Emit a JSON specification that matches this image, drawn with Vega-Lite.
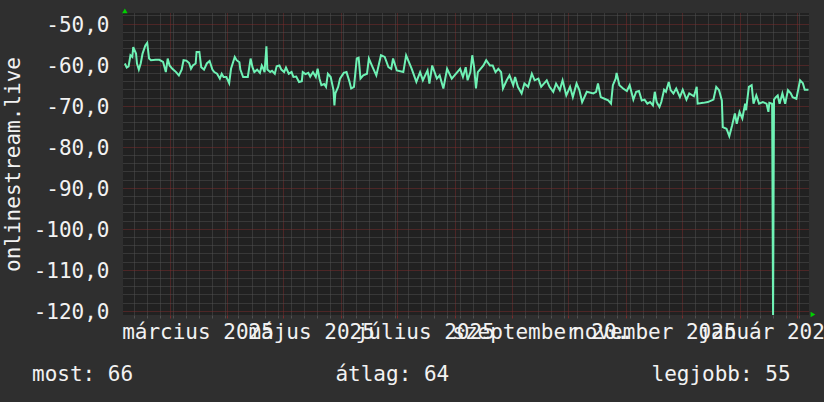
{
  "$schema": "https://vega.github.io/schema/vega-lite/v6.json",
  "width": 686,
  "height": 302,
  "autosize": {"type": "none"},
  "padding": {"left": 123, "top": 13, "right": 15, "bottom": 87},
  "background": "#2f2f2f",
  "config": {
    "view": {"fill": "#212121", "stroke": null},
    "font": "DejaVu Sans Mono",
    "axis": {
      "domain": false,
      "labelFont": "DejaVu Sans Mono",
      "labelFontSize": 21,
      "labelColor": "#f2f2f2",
      "titleFont": "DejaVu Sans Mono",
      "titleFontSize": 21,
      "titleFontWeight": "normal",
      "titleColor": "#f2f2f2"
    }
  },
  "title": {
    "text": "most: 66\u00a0\u00a0\u00a0\u00a0\u00a0\u00a0\u00a0\u00a0\u00a0\u00a0\u00a0\u00a0\u00a0\u00a0\u00a0\u00a0átlag: 64\u00a0\u00a0\u00a0\u00a0\u00a0\u00a0\u00a0\u00a0\u00a0\u00a0\u00a0\u00a0\u00a0\u00a0\u00a0\u00a0legjobb: 55",
    "orient": "bottom",
    "anchor": "start",
    "frame": "group",
    "dx": -91,
    "offset": 22,
    "font": "DejaVu Sans Mono",
    "fontSize": 21,
    "fontWeight": "normal",
    "color": "#f2f2f2"
  },
  "data": {"values": [
    {"t":"2025-02-05","v":-59.7},
    {"t":"2025-02-06","v":-60.7},
    {"t":"2025-02-07","v":-60.4},
    {"t":"2025-02-08","v":-57.7},
    {"t":"2025-02-09","v":-58.1},
    {"t":"2025-02-09T12:00Z","v":-55.7},
    {"t":"2025-02-11","v":-57.3},
    {"t":"2025-02-11T12:00Z","v":-59.7},
    {"t":"2025-02-12T12:00Z","v":-61.2},
    {"t":"2025-02-13T12:00Z","v":-59.7},
    {"t":"2025-02-14T12:00Z","v":-57.3},
    {"t":"2025-02-16","v":-55.3},
    {"t":"2025-02-17","v":-54.7},
    {"t":"2025-02-18","v":-58.5},
    {"t":"2025-02-19","v":-58.9},
    {"t":"2025-02-21T12:00Z","v":-58.8},
    {"t":"2025-02-23T12:00Z","v":-58.8},
    {"t":"2025-02-25T12:00Z","v":-59.3},
    {"t":"2025-02-27","v":-61.8},
    {"t":"2025-02-28","v":-58.5},
    {"t":"2025-03-01","v":-60.2},
    {"t":"2025-03-02T12:00Z","v":-61},
    {"t":"2025-03-04T12:00Z","v":-61.8},
    {"t":"2025-03-06","v":-62.6},
    {"t":"2025-03-07T12:00Z","v":-61.2},
    {"t":"2025-03-08T12:00Z","v":-58.9},
    {"t":"2025-03-10","v":-59},
    {"t":"2025-03-11T12:00Z","v":-59.6},
    {"t":"2025-03-12T12:00Z","v":-61},
    {"t":"2025-03-13T12:00Z","v":-60.2},
    {"t":"2025-03-15","v":-59.7},
    {"t":"2025-03-15T12:00Z","v":-56.9},
    {"t":"2025-03-17","v":-56.9},
    {"t":"2025-03-18","v":-60.6},
    {"t":"2025-03-19T12:00Z","v":-61.2},
    {"t":"2025-03-21","v":-59.7},
    {"t":"2025-03-22T12:00Z","v":-59.1},
    {"t":"2025-03-24","v":-61.2},
    {"t":"2025-03-25","v":-61.8},
    {"t":"2025-03-26T12:00Z","v":-62.2},
    {"t":"2025-03-28","v":-63.4},
    {"t":"2025-03-29","v":-62.2},
    {"t":"2025-03-30","v":-63},
    {"t":"2025-03-31T12:00Z","v":-63},
    {"t":"2025-04-02","v":-64.5},
    {"t":"2025-04-03","v":-61},
    {"t":"2025-04-05","v":-58.1},
    {"t":"2025-04-06","v":-58.9},
    {"t":"2025-04-07T12:00Z","v":-59.4},
    {"t":"2025-04-08","v":-61.2},
    {"t":"2025-04-09T12:00Z","v":-63},
    {"t":"2025-04-11","v":-63},
    {"t":"2025-04-12","v":-63},
    {"t":"2025-04-13T12:00Z","v":-58.5},
    {"t":"2025-04-14T12:00Z","v":-60.6},
    {"t":"2025-04-15T12:00Z","v":-61.8},
    {"t":"2025-04-17","v":-61.2},
    {"t":"2025-04-18T12:00Z","v":-62},
    {"t":"2025-04-19T12:00Z","v":-60.2},
    {"t":"2025-04-20","v":-60.6},
    {"t":"2025-04-21","v":-61.8},
    {"t":"2025-04-22","v":-55.5},
    {"t":"2025-04-22T12:00Z","v":-61.2},
    {"t":"2025-04-24","v":-61.8},
    {"t":"2025-04-25","v":-61.5},
    {"t":"2025-04-26T12:00Z","v":-62.2},
    {"t":"2025-04-27T12:00Z","v":-60.4},
    {"t":"2025-04-29","v":-60.2},
    {"t":"2025-04-30","v":-61.2},
    {"t":"2025-05-01T12:00Z","v":-61.8},
    {"t":"2025-05-02T12:00Z","v":-60.7},
    {"t":"2025-05-04","v":-62.2},
    {"t":"2025-05-05T12:00Z","v":-61.8},
    {"t":"2025-05-06T12:00Z","v":-63},
    {"t":"2025-05-08","v":-62.9},
    {"t":"2025-05-09T12:00Z","v":-64.2},
    {"t":"2025-05-11","v":-64},
    {"t":"2025-05-11T12:00Z","v":-61.8},
    {"t":"2025-05-13","v":-62.3},
    {"t":"2025-05-14T12:00Z","v":-62},
    {"t":"2025-05-15T12:00Z","v":-62.9},
    {"t":"2025-05-17","v":-61.8},
    {"t":"2025-05-18T12:00Z","v":-63},
    {"t":"2025-05-19T12:00Z","v":-61},
    {"t":"2025-05-20T12:00Z","v":-63.4},
    {"t":"2025-05-21T12:00Z","v":-65},
    {"t":"2025-05-23","v":-64.7},
    {"t":"2025-05-24","v":-65.4},
    {"t":"2025-05-25","v":-62.2},
    {"t":"2025-05-26T12:00Z","v":-63},
    {"t":"2025-05-28","v":-66.2},
    {"t":"2025-05-28T12:00Z","v":-69.9},
    {"t":"2025-05-29","v":-67},
    {"t":"2025-05-30T12:00Z","v":-65.4},
    {"t":"2025-05-31T12:00Z","v":-63.4},
    {"t":"2025-06-02T12:00Z","v":-62},
    {"t":"2025-06-04","v":-61.8},
    {"t":"2025-06-05T12:00Z","v":-64},
    {"t":"2025-06-06T12:00Z","v":-65.8},
    {"t":"2025-06-08","v":-65.4},
    {"t":"2025-06-09T12:00Z","v":-58.5},
    {"t":"2025-06-10T12:00Z","v":-58.3},
    {"t":"2025-06-11T12:00Z","v":-63.4},
    {"t":"2025-06-13","v":-62.6},
    {"t":"2025-06-15","v":-62.2},
    {"t":"2025-06-16","v":-58.5},
    {"t":"2025-06-18","v":-60.6},
    {"t":"2025-06-20","v":-62.6},
    {"t":"2025-06-22T12:00Z","v":-57.7},
    {"t":"2025-06-24T12:00Z","v":-58.1},
    {"t":"2025-06-26T12:00Z","v":-60.6},
    {"t":"2025-06-28","v":-61},
    {"t":"2025-06-29","v":-58.5},
    {"t":"2025-07-01","v":-61.4},
    {"t":"2025-07-04T12:00Z","v":-61.8},
    {"t":"2025-07-06","v":-57.7},
    {"t":"2025-07-09","v":-61},
    {"t":"2025-07-11T12:00Z","v":-64.2},
    {"t":"2025-07-13T12:00Z","v":-61.8},
    {"t":"2025-07-15","v":-63.8},
    {"t":"2025-07-17T12:00Z","v":-61.4},
    {"t":"2025-07-18T12:00Z","v":-64.6},
    {"t":"2025-07-20","v":-60.2},
    {"t":"2025-07-22T12:00Z","v":-63.4},
    {"t":"2025-07-24","v":-62.6},
    {"t":"2025-07-26","v":-65.8},
    {"t":"2025-07-28","v":-61},
    {"t":"2025-07-30T12:00Z","v":-63.4},
    {"t":"2025-08-01","v":-62.6},
    {"t":"2025-08-04","v":-61},
    {"t":"2025-08-05T12:00Z","v":-63},
    {"t":"2025-08-07","v":-60.6},
    {"t":"2025-08-08","v":-63.8},
    {"t":"2025-08-09T12:00Z","v":-61.8},
    {"t":"2025-08-10T12:00Z","v":-57.7},
    {"t":"2025-08-11T12:00Z","v":-60.6},
    {"t":"2025-08-12T12:00Z","v":-65.8},
    {"t":"2025-08-13T12:00Z","v":-61.8},
    {"t":"2025-08-16T12:00Z","v":-60.2},
    {"t":"2025-08-18","v":-58.9},
    {"t":"2025-08-20","v":-60.2},
    {"t":"2025-08-21T12:00Z","v":-60.2},
    {"t":"2025-08-23","v":-61.8},
    {"t":"2025-08-24T12:00Z","v":-61},
    {"t":"2025-08-26","v":-61.8},
    {"t":"2025-08-27","v":-65.8},
    {"t":"2025-08-29","v":-63.8},
    {"t":"2025-08-30T12:00Z","v":-62.6},
    {"t":"2025-09-01T12:00Z","v":-65},
    {"t":"2025-09-02T12:00Z","v":-63},
    {"t":"2025-09-04","v":-65.4},
    {"t":"2025-09-06","v":-67},
    {"t":"2025-09-07T12:00Z","v":-64.6},
    {"t":"2025-09-09T12:00Z","v":-65.4},
    {"t":"2025-09-11T12:00Z","v":-62.2},
    {"t":"2025-09-13","v":-63.8},
    {"t":"2025-09-15","v":-63.4},
    {"t":"2025-09-16T12:00Z","v":-65.4},
    {"t":"2025-09-19T12:00Z","v":-63.8},
    {"t":"2025-09-21","v":-65.4},
    {"t":"2025-09-23","v":-66.6},
    {"t":"2025-09-24T12:00Z","v":-64.6},
    {"t":"2025-09-26T12:00Z","v":-66.2},
    {"t":"2025-09-28","v":-63.8},
    {"t":"2025-09-30","v":-67.5},
    {"t":"2025-10-02","v":-65.4},
    {"t":"2025-10-03T12:00Z","v":-67.9},
    {"t":"2025-10-05T12:00Z","v":-64.6},
    {"t":"2025-10-07","v":-66.2},
    {"t":"2025-10-08T12:00Z","v":-69.1},
    {"t":"2025-10-11","v":-66.6},
    {"t":"2025-10-14T12:00Z","v":-67},
    {"t":"2025-10-16","v":-66.6},
    {"t":"2025-10-17","v":-64.6},
    {"t":"2025-10-18T12:00Z","v":-67.9},
    {"t":"2025-10-20T12:00Z","v":-68.3},
    {"t":"2025-10-22T12:00Z","v":-68.7},
    {"t":"2025-10-24","v":-69.5},
    {"t":"2025-10-25","v":-65},
    {"t":"2025-10-26T12:00Z","v":-63.4},
    {"t":"2025-10-27","v":-62},
    {"t":"2025-10-28T12:00Z","v":-65},
    {"t":"2025-10-30T12:00Z","v":-65.8},
    {"t":"2025-11-01T12:00Z","v":-66.4},
    {"t":"2025-11-03","v":-65},
    {"t":"2025-11-05","v":-68.5},
    {"t":"2025-11-06T12:00Z","v":-66.6},
    {"t":"2025-11-08","v":-66.4},
    {"t":"2025-11-09T12:00Z","v":-68.7},
    {"t":"2025-11-11","v":-68.5},
    {"t":"2025-11-12T12:00Z","v":-69.5},
    {"t":"2025-11-14","v":-69.1},
    {"t":"2025-11-15T12:00Z","v":-69.9},
    {"t":"2025-11-16T12:00Z","v":-66.6},
    {"t":"2025-11-17T12:00Z","v":-69.1},
    {"t":"2025-11-19","v":-70.3},
    {"t":"2025-11-20","v":-69.1},
    {"t":"2025-11-21T12:00Z","v":-66.1},
    {"t":"2025-11-22T12:00Z","v":-66.6},
    {"t":"2025-11-24","v":-64.2},
    {"t":"2025-11-25","v":-66.2},
    {"t":"2025-11-26T12:00Z","v":-67},
    {"t":"2025-11-28","v":-65.8},
    {"t":"2025-11-30","v":-67.9},
    {"t":"2025-12-01T12:00Z","v":-66.1},
    {"t":"2025-12-03T12:00Z","v":-68.5},
    {"t":"2025-12-05","v":-67},
    {"t":"2025-12-07T12:00Z","v":-67.7},
    {"t":"2025-12-09","v":-65.4},
    {"t":"2025-12-09T12:00Z","v":-69.5},
    {"t":"2025-12-12T12:00Z","v":-69.3},
    {"t":"2025-12-15","v":-69.1},
    {"t":"2025-12-18","v":-68.5},
    {"t":"2025-12-19T12:00Z","v":-65.4},
    {"t":"2025-12-21","v":-66.2},
    {"t":"2025-12-22T12:00Z","v":-68.7},
    {"t":"2025-12-23","v":-75.2},
    {"t":"2025-12-25","v":-75.6},
    {"t":"2025-12-26T12:00Z","v":-77.4},
    {"t":"2025-12-28","v":-74.8},
    {"t":"2025-12-29T12:00Z","v":-71.9},
    {"t":"2025-12-30T12:00Z","v":-74.4},
    {"t":"2026-01-01","v":-71.5},
    {"t":"2026-01-02T12:00Z","v":-73.1},
    {"t":"2026-01-04","v":-69.5},
    {"t":"2026-01-04T12:00Z","v":-71.1},
    {"t":"2026-01-06","v":-65.4},
    {"t":"2026-01-07T12:00Z","v":-65},
    {"t":"2026-01-08T12:00Z","v":-69.5},
    {"t":"2026-01-10","v":-67.5},
    {"t":"2026-01-11T12:00Z","v":-69.5},
    {"t":"2026-01-13T12:00Z","v":-69.1},
    {"t":"2026-01-15T12:00Z","v":-69.5},
    {"t":"2026-01-16T12:00Z","v":-71.5},
    {"t":"2026-01-17","v":-69.3},
    {"t":"2026-01-18T12:00Z","v":-69.5},
    {"t":"2026-01-19","v":-122},
    {"t":"2026-01-19T12:00Z","v":-68.5},
    {"t":"2026-01-20T12:00Z","v":-67.9},
    {"t":"2026-01-21T12:00Z","v":-67.5},
    {"t":"2026-01-22T12:00Z","v":-69.5},
    {"t":"2026-01-24","v":-67},
    {"t":"2026-01-25T12:00Z","v":-69.5},
    {"t":"2026-01-27","v":-66.2},
    {"t":"2026-01-28T12:00Z","v":-67},
    {"t":"2026-01-29T12:00Z","v":-67.9},
    {"t":"2026-01-31T12:00Z","v":-68.3},
    {"t":"2026-02-02T12:00Z","v":-63.8},
    {"t":"2026-02-04","v":-64.5},
    {"t":"2026-02-05","v":-66.1},
    {"t":"2026-02-07","v":-66.1}
  ]},
  "layer": [
    {
      "mark": {"type": "line", "color": "#6ff2b5", "strokeWidth": 2, "clip": true},
      "encoding": {
        "x": {
          "field": "t",
          "type": "temporal",
          "scale": {
            "type": "utc",
            "domain": [
              {"year": 2025, "month": 2, "date": 4, "utc": true},
              {"year": 2026, "month": 2, "date": 7, "hours": 7, "utc": true}
            ]
          },
          "axis": {
            "title": null,
            "tickCount": {"interval": "day", "step": 1},
            "labelExpr": "utcdate(datum.value) === 16 && utcmonth(datum.value) % 2 === 0 ? ['január','február','március','április','május','június','július','augusztus','szeptember','október','november','december'][utcmonth(datum.value)] + ' ' + utcyear(datum.value) : ''",
            "labelOverlap": false,
            "labelBound": false,
            "labelFlush": false,
            "labelPadding": 3,
            "ticks": true,
            "tickSize": 3,
            "tickColor": {"condition": {"test": "utcdate(datum.value) === 1", "value": "#7a2c2c"}, "value": "#505050"},
            "tickOpacity": {"condition": {"test": "utcday(datum.value) === 1 || utcdate(datum.value) === 1", "value": 1}, "value": 0},
            "grid": true,
            "gridColor": {"condition": {"test": "utcdate(datum.value) === 1", "value": "#7a2c2c"}, "value": "#505050"},
            "gridOpacity": {"condition": {"test": "utcday(datum.value) === 1 || utcdate(datum.value) === 1", "value": 1}, "value": 0},
            "gridDash": [1, 1]
          }
        },
        "y": {
          "field": "v",
          "type": "quantitative",
          "scale": {"domain": [-121, -47.4], "nice": false, "zero": false},
          "axis": {
            "title": "onlinestream.live",
            "titlePadding": 10,
            "tickCount": 100,
            "values": [-120,-118,-116,-114,-112,-110,-108,-106,-104,-102,-100,-98,-96,-94,-92,-90,-88,-86,-84,-82,-80,-78,-76,-74,-72,-70,-68,-66,-64,-62,-60,-58,-56,-54,-52,-50,-48],
            "labelExpr": "datum.value % 10 === 0 ? (datum.value < 0 ? '-' : '') + abs(datum.value) + ',0' : ''",
            "labelOverlap": false,
            "labelBound": false,
            "labelFlush": false,
            "labelOffset": 2,
            "ticks": false,
            "labelPadding": 14,
            "grid": true,
            "gridColor": {"condition": {"test": "datum.value % 10 === 0", "value": "#7a2c2c"}, "value": "#505050"},
            "gridDash": [1, 1]
          }
        }
      }
    },
    {
      "data": {"values": [{}]},
      "mark": {"type": "point", "shape": "triangle-up", "filled": true, "color": "#00d000", "size": 30, "opacity": 1},
      "encoding": {
        "x": {"datum": {"year": 2025, "month": 2, "date": 5, "utc": true}, "type": "temporal"},
        "y": {"datum": -46.9, "type": "quantitative"}
      }
    },
    {
      "data": {"values": [{}]},
      "mark": {"type": "point", "shape": "triangle-right", "filled": true, "color": "#00d000", "size": 30, "opacity": 1},
      "encoding": {
        "x": {"datum": {"year": 2026, "month": 2, "date": 9, "hours": 10, "utc": true}, "type": "temporal"},
        "y": {"datum": -120.9, "type": "quantitative"}
      }
    }
  ]
}
